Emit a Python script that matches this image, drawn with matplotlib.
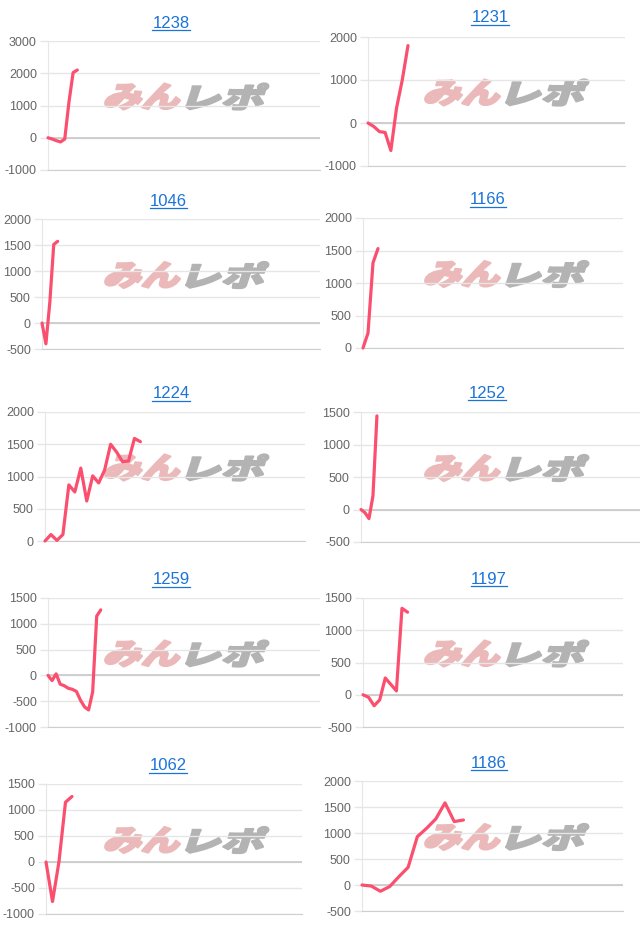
import matplotlib
matplotlib.use("Agg")
import matplotlib.pyplot as plt
import numpy as np
from matplotlib.font_manager import FontProperties
from matplotlib.textpath import TextPath
from matplotlib.patches import PathPatch
from matplotlib.transforms import Affine2D
from matplotlib.lines import Line2D

# Data
titles = ["1238", "1231", "1046", "1166", "1224", "1252", "1259", "1197", "1062", "1186"]

v1238 = [0, -40, -90, -130, -40, 1100, 2020, 2100]
v1231 = [0, -80, -200, -220, -640, 350, 1000, 1800]
v1046 = [0, -400, 400, 1510, 1570]
v1166 = [0, 230, 1310, 1530]
v1224 = [0, 100, 10, 100, 870, 760, 1130, 620, 1010, 900, 1100, 1500, 1380, 1230, 1240, 1590, 1540]
v1252 = [0, -50, -140, 210, 1440]
v1259 = [0, -100, 30, -170, -200, -250, -270, -310, -480, -610, -670, -320, 1150, 1270]
v1197 = [0, -40, -170, -80, 260, 160, 60, 1340, 1280]
v1062 = [0, -760, 10, 1150, 1260]
v1186 = [0, -20, -120, -30, 160, 340, 930, 1090, 1270, 1580, 1220, 1250]
values = [v1238, v1231, v1046, v1166, v1224, v1252, v1259, v1197, v1062, v1186]

# y ranges (min, max, step) and number of x slots on each axis
yranges = [(-1000, 3000, 1000), (-1000, 2000, 1000), (-500, 2000, 500), (0, 2000, 500),
           (0, 2000, 500), (-500, 1500, 500), (-1000, 1500, 500), (-500, 1500, 500),
           (-1000, 1500, 500), (-500, 2000, 500)]
slots = [65, 45, 71, 52, 43.6, 70, 67, 46.7, 39.4, 28.3]

# layout in pixels: left, top, right, bottom of plot area; title centre
W, H = 640, 931
boxes = [(48, 41, 320, 170), (368, 37, 625, 166), (42, 219, 320, 349), (363, 218, 623, 348),
         (45, 412, 305, 541), (361, 412, 640, 542), (48, 598, 320, 727), (363, 598, 623, 727),
         (46, 784, 302, 914), (362, 781, 623, 911)]
title_pos = [(171, 23), (490, 18), (168, 201), (488, 200), (171, 394), (487, 393),
             (171, 580), (489, 579), (168, 766), (489, 763)]

LINE = "#fb4f6f"
GRID = "#e6e6e6"

fig = plt.figure(figsize=(W / 100, H / 100), dpi=100)
px = Affine2D().scale(1 / fig.dpi) + fig.dpi_scale_trans

wm_font = FontProperties(family="Noto Sans CJK JP", weight="black")


def watermark(cx, cy):
    parts = [("みん", "#ebb9b9", cx - 79, 74), ("レポ", "#b3b3b3", cx + 3, 76)]
    for txt, col, x0, w in parts:
        tp = TextPath((0, 0), txt, size=1, prop=wm_font)
        ex = tp.get_extents()
        tr = (Affine2D().translate(-ex.x0, -ex.y0)
              .scale(w / ex.width, 26 / ex.height)
              .skew_deg(18, 0)
              .translate(x0 - 4, H - cy - 13))
        patch = PathPatch(tp, transform=tr + px, facecolor=col, edgecolor=col, lw=1.6,
                          joinstyle="round", zorder=-1)
        fig.add_artist(patch)


title_texts = []
for i, (name, vals) in enumerate(zip(titles, values)):
    l, t, r, b = boxes[i]
    ax = fig.add_axes([l / W, (H - b) / H, (r - l) / W, (b - t) / H])
    ax.set_facecolor("none")
    lo, hi, step = yranges[i]
    ax.set_ylim(lo, hi)
    ax.set_xlim(0, slots[i])
    ticks = np.arange(lo, hi + 1, step)
    ax.set_yticks(ticks)
    ax.set_yticklabels([str(v) for v in ticks], fontsize=9, color="#666666",
                       family="Liberation Sans")
    ax.set_xticks([])
    ax.tick_params(axis="y", length=6, width=1, color=GRID, pad=2)
    ax.grid(axis="y", color=GRID, lw=1)
    ax.set_axisbelow(True)
    for s in ["top", "right"]:
        ax.spines[s].set_visible(False)
    ax.spines["left"].set_color(GRID)
    ax.spines["bottom"].set_color("#cfcfcf")
    if lo < 0:
        ax.axhline(0, color="#c8c8c8", lw=1.2, zorder=1)
    ax.plot(np.arange(len(vals)), vals, color=LINE, lw=2.3, solid_joinstyle="round",
            solid_capstyle="round", zorder=3, clip_on=False)

    tx, ty = title_pos[i]
    tt = fig.text(tx / W, (H - ty) / H, name, ha="center", va="center", fontsize=12,
                  color="#1a73d9", family="Liberation Sans")
    title_texts.append(tt)

    cx = 186 if l < 320 else 506
    watermark(cx, (t + b) / 2 - 9)

# underline the titles like links
fig.canvas.draw()
rend = fig.canvas.get_renderer()
for tt in title_texts:
    bb = tt.get_window_extent(rend)
    y = (bb.y0 + 0.5) / fig.bbox.height
    fig.add_artist(Line2D([bb.x0 / fig.bbox.width, bb.x1 / fig.bbox.width], [y, y],
                          color="#1a73d9", lw=0.9))

fig.savefig("out.png", dpi=100)
